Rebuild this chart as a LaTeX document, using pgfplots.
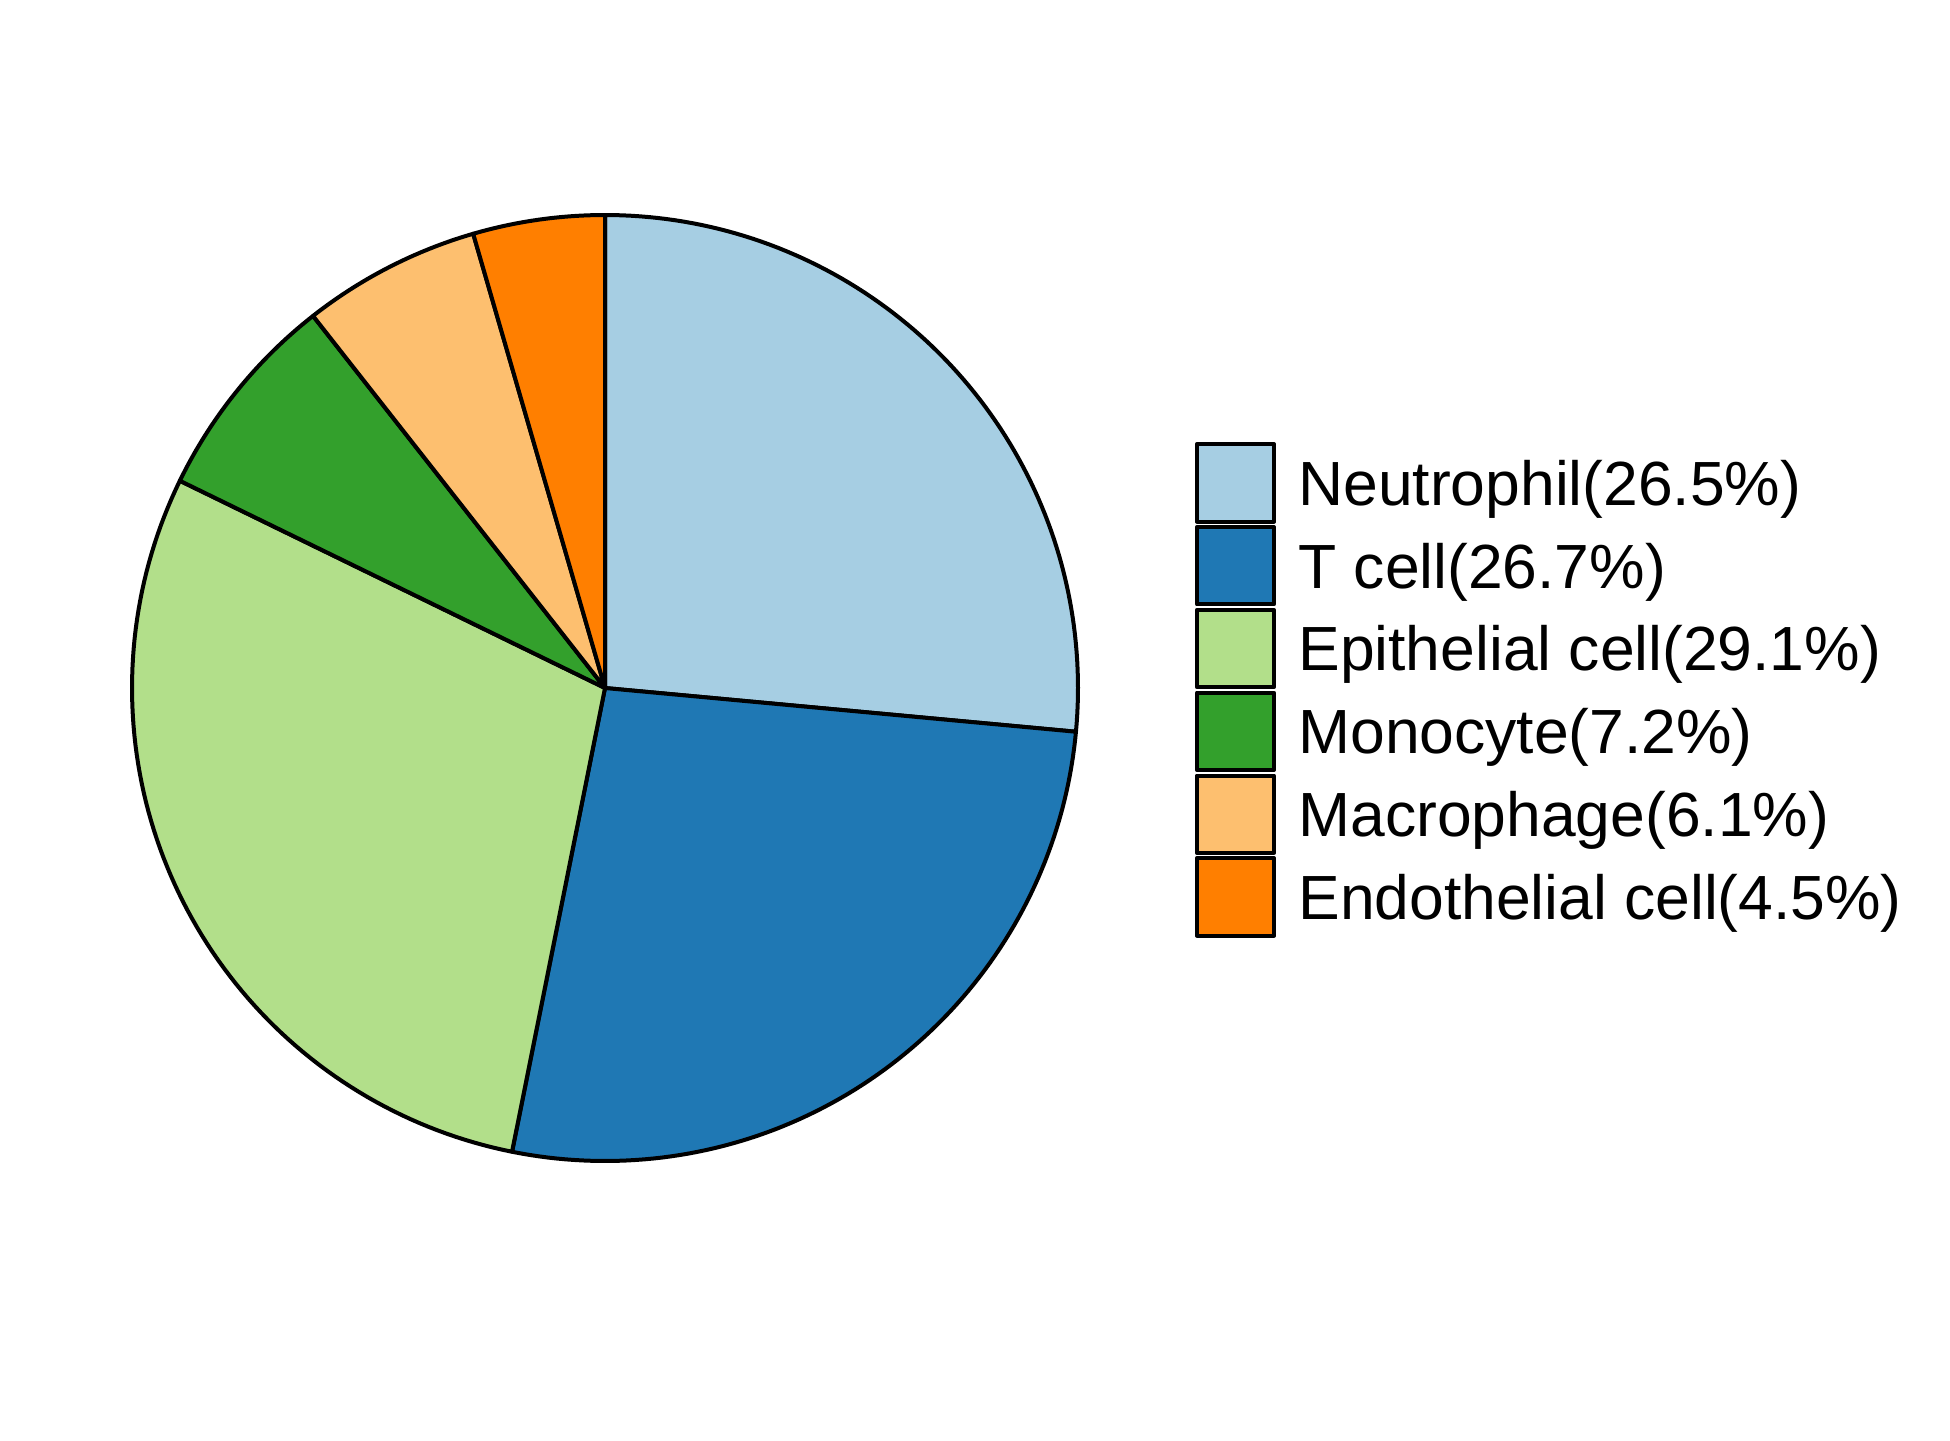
\documentclass[border=0pt]{standalone}
\usepackage{fontspec}
\setmainfont{Liberation Sans}
\usepackage{pgfplots}
\usepackage{pgfplotstable}
\pgfplotsset{compat=1.18}
\definecolor{cA}{HTML}{A6CEE3}
\definecolor{cB}{HTML}{1F78B4}
\definecolor{cC}{HTML}{B2DF8A}
\definecolor{cD}{HTML}{33A02C}
\definecolor{cE}{HTML}{FDBF6F}
\definecolor{cF}{HTML}{FF7F00}
% shares (percent)
\def\pA{26.5}\def\pB{26.7}\def\pC{29.1}\def\pD{7.2}\def\pE{6.1}\def\pF{4.5}
\pgfmathsetmacro\tot{\pA+\pB+\pC+\pD+\pE+\pF}
\pgfmathsetmacro\aA{90}
\pgfmathsetmacro\aB{\aA-360*\pA/\tot}
\pgfmathsetmacro\aC{\aB-360*\pB/\tot}
\pgfmathsetmacro\aD{\aC-360*\pC/\tot}
\pgfmathsetmacro\aE{\aD-360*\pD/\tot}
\pgfmathsetmacro\aF{\aE-360*\pE/\tot}
\pgfmathsetmacro\aG{\aF-360*\pF/\tot}
\def\cx{605}\def\cy{752}\def\R{473}
\begin{document}
\begin{tikzpicture}
\useasboundingbox (0,0) rectangle (487.5pt,360pt);
\begin{axis}[at={(0,0)}, anchor=south west, scale only axis,
  width=487.5pt, height=360pt,
  xmin=0, xmax=1950, ymin=0, ymax=1440,
  hide axis, clip=false,
  legend image code/.code={\draw[#1,line width=1pt] (0pt,-4.05pt) rectangle (19.3pt,15.25pt);},
  legend style={at={(axis cs:1194,998.5)}, anchor=north west, draw=none, fill=none,
    inner sep=0pt, row sep=0.4pt,
    font=\fontsize{15.6}{18}\selectfont,
    nodes={inner sep=0pt},
    cells={anchor=base west},
    /tikz/every odd column/.append style={column sep=5.6pt}},
  every axis plot/.append style={draw=black, line width=1pt, line join=round},
]
\addplot[fill=cA, domain=\aB:\aA, samples=90, variable=\t] ({\cx+\R*cos(\t)},{\cy+\R*sin(\t)}) -- (axis cs:\cx,\cy) -- cycle;
\addlegendentry{Neutrophil(26.5\%)}
\addplot[fill=cB, domain=\aC:\aB, samples=90, variable=\t] ({\cx+\R*cos(\t)},{\cy+\R*sin(\t)}) -- (axis cs:\cx,\cy) -- cycle;
\addlegendentry{T cell(26.7\%)}
\addplot[fill=cC, domain=\aD:\aC, samples=90, variable=\t] ({\cx+\R*cos(\t)},{\cy+\R*sin(\t)}) -- (axis cs:\cx,\cy) -- cycle;
\addlegendentry{Epithelial cell(29.1\%)}
\addplot[fill=cD, domain=\aE:\aD, samples=40, variable=\t] ({\cx+\R*cos(\t)},{\cy+\R*sin(\t)}) -- (axis cs:\cx,\cy) -- cycle;
\addlegendentry{Monocyte(7.2\%)}
\addplot[fill=cE, domain=\aF:\aE, samples=40, variable=\t] ({\cx+\R*cos(\t)},{\cy+\R*sin(\t)}) -- (axis cs:\cx,\cy) -- cycle;
\addlegendentry{Macrophage(6.1\%)}
\addplot[fill=cF, domain=\aG:\aF, samples=30, variable=\t] ({\cx+\R*cos(\t)},{\cy+\R*sin(\t)}) -- (axis cs:\cx,\cy) -- cycle;
\addlegendentry{Endothelial cell(4.5\%)}
\end{axis}
\end{tikzpicture}
\end{document}
